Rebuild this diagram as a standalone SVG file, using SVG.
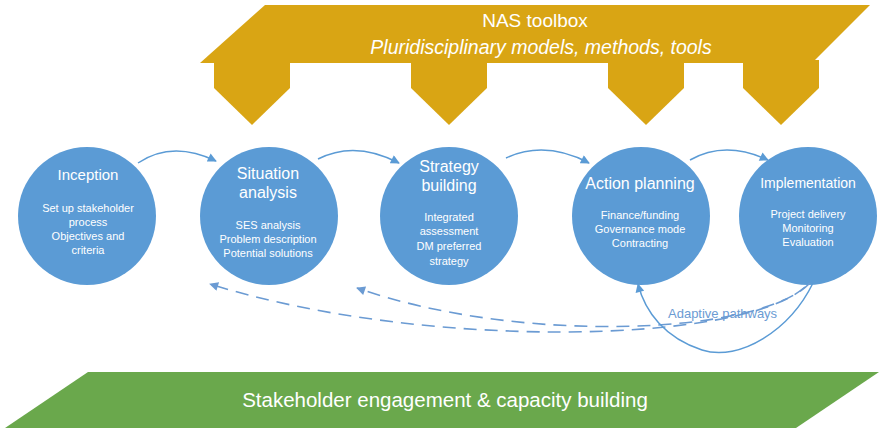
<svg xmlns="http://www.w3.org/2000/svg" width="879" height="431" viewBox="0 0 879 431">
  <defs>
    <style>
      .gold { fill: #D9A514; }
      .green { fill: #6AA84C; }
      .node circle { fill: #5B9BD5; }
      .title { font-family: "Liberation Sans", Arial, sans-serif; fill: #FFFFFF; text-anchor: middle; }
      .sub { font-family: "Liberation Sans", Arial, sans-serif; font-size: 11px; fill: #FFFFFF; text-anchor: middle; }
      .band { font-family: "Liberation Sans", Arial, sans-serif; fill: #FFFFFF; text-anchor: middle; }
      .conn { fill: none; stroke: #5B9BD5; stroke-width: 1.5; }
      .dash { fill: none; stroke: #6B9BD3; stroke-width: 1.6; stroke-dasharray: 13 8; }
      .label { font-family: "Liberation Sans", Arial, sans-serif; font-size: 13px; fill: #6B9BD3; }
    </style>
    <marker id="arrow" viewBox="0 0 10 10" refX="9" refY="5" markerWidth="10" markerHeight="9" markerUnits="userSpaceOnUse" orient="auto">
      <path d="M0,0 L10,5 L0,10 z" fill="#5B9BD5"/>
    </marker>
    <marker id="arrowD" viewBox="0 0 10 10" refX="9" refY="5" markerWidth="10" markerHeight="9" markerUnits="userSpaceOnUse" orient="auto">
      <path d="M0,0 L10,5 L0,10 z" fill="#6B9BD3"/>
    </marker>
  </defs>
  <rect width="879" height="431" fill="#FFFFFF"/>

  <g id="toolbox">
    <polygon class="gold" points="265,5 870,5 812,63 200,63"/>
    <polygon class="gold" points="214,60 290,60 290,88 252,125 214,88"/>
    <polygon class="gold" points="411,60 487,60 487,88 449,125 411,88"/>
    <polygon class="gold" points="608,60 684,60 684,88 646,125 608,88"/>
    <polygon class="gold" points="743,60 819,60 819,88 781,125 743,88"/>
    <text class="band" x="535" y="27" font-size="19">NAS toolbox</text>
    <text class="band" x="541" y="54" font-size="19.5" font-style="italic">Pluridisciplinary models, methods, tools</text>
  </g>

  <g id="stakeholder">
    <polygon class="green" points="88,372 879,372 796,428 5,428"/>
    <text class="band" x="445" y="407" font-size="20.5">Stakeholder engagement &amp; capacity building</text>
  </g>

  <g id="inception" class="node">
    <circle cx="87" cy="216" r="69"/>
    <text class="title" x="88" y="180" font-size="15">Inception</text>
    <text class="sub" x="88" y="212">Set up stakeholder</text>
    <text class="sub" x="88" y="226">process</text>
    <text class="sub" x="88" y="240">Objectives and</text>
    <text class="sub" x="88" y="254">criteria</text>
  </g>

  <g id="situation" class="node">
    <circle cx="269" cy="216" r="69"/>
    <text class="title" x="268" y="179" font-size="16">Situation</text>
    <text class="title" x="268" y="198" font-size="16">analysis</text>
    <text class="sub" x="268" y="229">SES analysis</text>
    <text class="sub" x="268" y="243">Problem description</text>
    <text class="sub" x="268" y="257">Potential solutions</text>
  </g>

  <g id="strategy" class="node">
    <circle cx="449" cy="216" r="69"/>
    <text class="title" x="449" y="172" font-size="16">Strategy</text>
    <text class="title" x="449" y="191" font-size="16">building</text>
    <text class="sub" x="449" y="221">Integrated</text>
    <text class="sub" x="449" y="235">assessment</text>
    <text class="sub" x="449" y="250">DM preferred</text>
    <text class="sub" x="449" y="265">strategy</text>
  </g>

  <g id="action" class="node">
    <circle cx="641" cy="216" r="69"/>
    <text class="title" x="640" y="189" font-size="16">Action planning</text>
    <text class="sub" x="640" y="219">Finance/funding</text>
    <text class="sub" x="640" y="233">Governance mode</text>
    <text class="sub" x="640" y="247">Contracting</text>
  </g>

  <g id="implementation" class="node">
    <circle cx="808" cy="216" r="69"/>
    <text class="title" x="808" y="188" font-size="14">Implementation</text>
    <text class="sub" x="808" y="218">Project delivery</text>
    <text class="sub" x="808" y="232">Monitoring</text>
    <text class="sub" x="808" y="246">Evaluation</text>
  </g>

  <g id="connectors">
    <path class="conn" d="M138,163 Q172,140 216,161" marker-end="url(#arrow)"/>
    <path class="conn" d="M318,159 Q355,140 399,163" marker-end="url(#arrow)"/>
    <path class="conn" d="M506,158 Q545,140 589,163" marker-end="url(#arrow)"/>
    <path class="conn" d="M690,160 Q725,140 768,160" marker-end="url(#arrow)"/>
    <path class="dash" d="M805,287 C740,345 420,350 210,284" marker-end="url(#arrowD)"/>
    <path class="dash" d="M810,283 C760,335 520,345 357,288" marker-end="url(#arrowD)"/>
    <path class="conn" d="M813,283 C790,330 740,362 702,350 C665,338 645,312 638,284" marker-end="url(#arrow)"/>
    <text class="label" x="668" y="318">Adaptive pathways</text>
  </g>
</svg>
